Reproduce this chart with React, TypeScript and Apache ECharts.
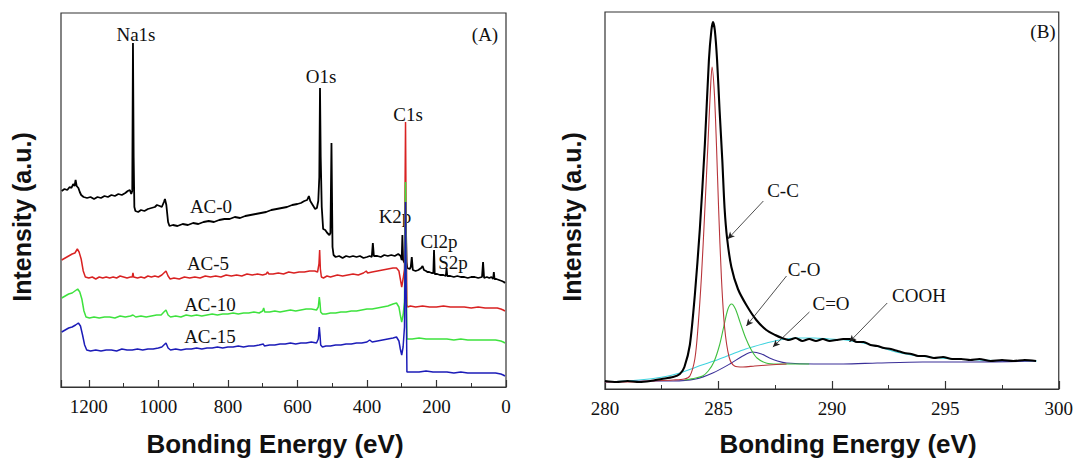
import React, { useEffect, useRef } from 'react';
import * as echarts from 'echarts';

// ---------- Panel A: survey spectra (Bonding energy eV, intensity a.u.) ----------
const ac0: number[][] = [
  [1278,196],[1270,198],[1262,197],[1255,200],[1250,199],[1245,203],[1241,201],[1238,207],[1235,201],[1230,199],[1226,195],[1222,192],[1215,190],[1205,189],[1195,190],[1185,188],[1175,190],[1165,189],[1155,191],[1145,190],[1135,192],[1125,191],[1115,193],[1105,192],[1095,194],[1088,196],[1082,197],[1078,193],[1075,196],[1073,344],[1071,230],[1069,180],[1066,176],[1058,175],[1050,177],[1040,176],[1030,178],[1020,179],[1010,180],[1004,182],[996,181],[990,180],[984,185],[981,188],[977,182],[972,165],[968,161],[958,162],[945,161],[930,163],[915,162],[900,164],[885,163],[870,165],[855,166],[840,165],[825,167],[810,168],[795,168],[780,170],[765,169],[750,171],[735,172],[720,173],[705,174],[690,175],[675,177],[660,178],[645,179],[630,180],[615,182],[600,183],[590,184],[580,186],[572,187],[567,191],[563,186],[556,182],[549,178],[544,179],[540,186],[537,210],[535,299],[533,230],[530,180],[526,158],[520,157],[514,154],[508,152],[505,154],[502,244],[499,140],[496,132],[490,130],[480,131],[470,129],[460,131],[450,130],[440,131],[430,130],[420,131],[410,129],[400,130],[392,131],[386,130],[383,144],[380,131],[370,131],[360,130],[350,132],[340,131],[330,132],[320,131],[310,133],[303,131],[300,127],[298,152],[297,128],[292,124],[289,185],[286,125],[284,119],[277,118],[274,120],[271,130],[268,117],[260,116],[252,117],[244,119],[240,121],[236,117],[230,116],[226,115],[221,115],[214,114],[209,114],[207,137],[205,113],[198,113],[190,112],[180,112],[173,111],[171,119],[169,111],[160,111],[150,110],[140,111],[130,110],[120,110],[110,109],[100,110],[90,110],[80,109],[69,110],[66,125],[63,109],[55,110],[48,109],[42,110],[37,108],[35,115],[33,108],[28,108],[20,107],[12,106],[6,105],[3,104]
];
const ac5: number[][] = [
  [1278,127],[1268,129],[1258,131],[1248,133],[1240,134],[1233,138],[1228,135],[1222,128],[1216,116],[1210,110],[1200,109],[1190,110],[1180,108],[1170,110],[1160,109],[1150,110],[1140,109],[1130,110],[1120,109],[1110,111],[1100,110],[1090,109],[1080,110],[1075,110],[1073,114],[1071,110],[1060,109],[1050,110],[1040,109],[1030,111],[1020,110],[1010,111],[1000,110],[990,112],[984,114],[978,116],[972,111],[966,108],[955,109],[940,108],[925,110],[910,109],[895,110],[880,109],[865,111],[850,110],[835,111],[820,110],[805,112],[790,111],[775,112],[760,111],[745,113],[730,112],[715,113],[700,112],[690,113],[686,115],[682,113],[670,113],[655,114],[640,113],[625,115],[610,114],[595,115],[580,115],[565,116],[550,116],[542,115],[538,123],[536,137],[534,118],[531,110],[525,109],[515,111],[505,110],[495,111],[485,112],[470,111],[455,112],[440,113],[425,112],[410,114],[402,116],[398,114],[385,115],[370,116],[355,117],[340,118],[325,119],[315,119],[308,116],[304,108],[300,100],[296,108],[292,118],[289,265],[287,150],[285,82],[283,80],[275,81],[260,80],[240,81],[220,80],[200,80],[180,81],[160,80],[140,80],[120,80],[100,79],[80,80],[60,79],[40,79],[25,79],[15,78],[8,77],[3,76]
];
const ac10: number[][] = [
  [1278,89],[1268,91],[1258,93],[1248,94],[1240,96],[1232,98],[1226,95],[1220,88],[1214,76],[1208,70],[1198,69],[1185,70],[1170,69],[1155,70],[1140,70],[1125,69],[1110,71],[1095,70],[1080,71],[1073,72],[1065,70],[1050,71],[1035,70],[1020,71],[1005,72],[992,72],[984,75],[978,77],[972,72],[965,70],[950,71],[935,70],[920,72],[905,71],[890,72],[875,71],[860,72],[845,73],[830,72],[815,73],[800,73],[785,74],[770,73],[755,74],[740,74],[725,75],[710,74],[700,76],[697,79],[694,75],[680,75],[665,76],[650,75],[635,76],[620,77],[605,76],[590,77],[575,78],[560,78],[545,77],[540,80],[537,90],[535,84],[533,75],[528,73],[518,73],[505,74],[490,74],[475,75],[460,75],[445,76],[430,76],[415,77],[400,78],[385,78],[370,79],[355,80],[340,81],[325,83],[315,84],[308,80],[304,72],[300,65],[296,72],[292,85],[289,205],[287,110],[285,48],[283,48],[270,48],[250,49],[230,48],[210,48],[190,48],[170,48],[150,47],[130,48],[110,47],[90,47],[70,47],[50,47],[30,47],[15,46],[8,45],[3,44]
];
const ac15: number[][] = [
  [1278,55],[1268,57],[1258,59],[1248,60],[1238,62],[1230,64],[1224,61],[1218,52],[1212,42],[1206,37],[1195,36],[1180,37],[1165,36],[1150,37],[1135,37],[1120,36],[1105,38],[1090,37],[1075,37],[1060,38],[1045,37],[1030,38],[1015,38],[1000,39],[990,40],[984,42],[978,44],[972,39],[965,37],[950,38],[935,37],[920,38],[905,38],[890,39],[875,38],[860,39],[845,39],[830,40],[815,39],[800,40],[785,40],[770,41],[755,40],[740,41],[725,41],[710,42],[698,43],[695,41],[680,42],[665,42],[650,43],[635,43],[620,44],[605,43],[590,44],[575,44],[560,45],[545,44],[540,48],[537,60],[535,52],[533,42],[528,40],[518,41],[505,41],[490,42],[475,42],[460,43],[445,43],[430,44],[415,44],[400,45],[392,47],[385,45],[370,46],[355,47],[340,48],[325,49],[315,50],[308,46],[304,38],[300,32],[296,40],[292,60],[289,185],[287,90],[285,15],[283,15],[270,15],[250,15],[230,16],[210,15],[190,15],[170,15],[150,14],[130,15],[110,14],[90,14],[70,14],[50,14],[30,14],[15,13],[8,12],[3,11]
];

// ---------- Panel B: C1s high resolution ----------
const c1sEnvelope: number[][] = [
  [280,8],[280.5,7],[281,8],[281.5,7],[282,8],[282.5,10],[283,12],[283.3,15],[283.5,22],[283.74,44],[283.96,94],[284.18,160],[284.4,244],[284.58,329],[284.69,359],[284.76,367],[284.84,359],[284.94,329],[285.05,279],[285.17,229],[285.27,181],[285.38,151],[285.57,122],[285.86,100],[286.23,84],[286.67,69],[287.11,59],[287.5,54],[287.8,51],[288.1,49],[288.4,51],[288.7,48],[289.0,50],[289.3,48],[289.6,50],[289.9,48],[290.2,49],[290.5,50],[290.8,50],[291.1,47],[291.4,47],[291.7,44],[292.0,43],[292.3,41],[292.6,40],[292.9,38],[293.2,36],[293.5,35],[293.8,33],[294.1,33],[294.5,31],[294.9,32],[295.3,30],[295.7,30],[296.1,29],[296.5,30],[297.0,28],[297.5,29],[298.0,28],[298.5,29],[299.0,28]
];
const peakCC: number[][] = [
  [280,7],[281,7],[282,8],[283,9],[283.5,10],[283.74,13],[283.96,30],[284.1,62],[284.25,112],[284.4,179],[284.54,246],[284.64,296],[284.72,322],[284.82,296],[284.91,246],[285.01,179],[285.13,112],[285.27,62],[285.47,32],[285.71,23],[286.08,22],[286.6,23],[287.2,24],[288,25]
];
const peakCO: number[][] = [
  [283.5,9],[284.0,11],[284.3,13],[284.55,18],[284.8,27],[285.05,44],[285.25,64],[285.42,80],[285.58,85],[285.75,80],[285.95,67],[286.2,51],[286.45,39],[286.7,31],[287.1,26],[287.6,25],[288.2,25],[289,25]
];
const peakCdO: number[][] = [
  [280,7],[282,8],[283,8],[284.0,10],[284.75,16],[285.5,25],[286.07,33],[286.5,37],[286.9,35],[287.25,31],[287.6,28],[288.0,26],[289.2,25],[290.5,25],[292,26],[294,27],[296,27],[299,28]
];
const peakCOOH: number[][] = [
  [280,7],[281.5,9],[282.56,12],[283.3,16],[284.03,22],[284.8,28],[285.5,34],[286.2,40],[286.96,45],[287.7,49],[288.43,51],[289.2,51],[289.89,50],[290.6,49],[291.36,46],[292.1,42],[292.82,37],[293.5,34],[294.29,32],[295.4,30],[296.48,29],[297.8,28],[299.03,28]
];

const xTicksA = [0, 200, 400, 600, 800, 1000, 1200];

export default function App() {
  const ref = useRef<HTMLDivElement>(null);
  useEffect(() => {
    if (!ref.current) return;
    const chart = echarts.init(ref.current, null, { renderer: 'svg' });
    const serif = 'Liberation Serif';
    const sans = 'Liberation Sans';
    const axisCol = '#333';
    const txt = (text: string, x: number, y: number, size = 19, extra: any = {}) => ({
      type: 'text',
      x, y,
      silent: true,
      ...extra,
      style: {
        text,
        fill: '#111',
        fontFamily: extra.font || serif,
        fontSize: size,
        fontWeight: extra.bold ? 'bold' : 'normal',
        textAlign: 'center',
        textVerticalAlign: 'middle',
        align: 'center',
        verticalAlign: 'middle',
      },
    });
    const lineA = (data: number[][], color: string, width: number) => ({
      type: 'line', xAxisIndex: 0, yAxisIndex: 0, data, showSymbol: false, symbol: 'none',
      lineStyle: { color, width }, itemStyle: { color }, silent: true,
    });
    const lineB = (data: number[][], color: string, width: number, smooth = 0.3) => ({
      type: 'line', xAxisIndex: 2, yAxisIndex: 1, data, showSymbol: false, symbol: 'none', smooth,
      lineStyle: { color, width }, itemStyle: { color }, silent: true,
    });
    const arrow = (a: number[], b: number[]) => [{ coord: a }, { coord: b }];

    const option: any = {
      animation: false,
      backgroundColor: '#ffffff',
      grid: [
        { left: 61, top: 13, width: 445, height: 374, show: true, borderColor: axisCol, borderWidth: 1.2, backgroundColor: 'transparent' },
        { left: 605, top: 12, width: 454, height: 377, show: true, borderColor: axisCol, borderWidth: 1.2, backgroundColor: 'transparent' },
      ],
      xAxis: [
        {
          gridIndex: 0, type: 'value', min: 0, max: 1280, inverse: true, interval: 200,
          axisLine: { show: true, lineStyle: { color: axisCol, width: 1.2 } },
          axisTick: { show: true, inside: true, length: 7, lineStyle: { color: axisCol, width: 1.2 } },
          axisLabel: {
            margin: 10, fontFamily: serif, fontSize: 19, color: '#111',
            formatter: (v: number) => (xTicksA.indexOf(v) >= 0 ? String(v) : ''),
          },
          splitLine: { show: false },
        },
        {
          gridIndex: 0, type: 'value', min: 0, max: 1280, inverse: true, interval: 100, position: 'bottom',
          axisLine: { show: false },
          axisTick: { show: true, inside: true, length: 4, lineStyle: { color: axisCol, width: 1 } },
          axisLabel: { show: false },
          splitLine: { show: false },
        },
        {
          gridIndex: 1, type: 'value', min: 280, max: 300, interval: 5,
          axisLine: { show: true, lineStyle: { color: axisCol, width: 1.2 } },
          axisTick: { show: true, inside: true, length: 8, lineStyle: { color: axisCol, width: 1.2 } },
          minorTick: { show: true, splitNumber: 2, length: 4, lineStyle: { color: axisCol, width: 1 } },
          axisLabel: { margin: 10, fontFamily: serif, fontSize: 19, color: '#111' },
          splitLine: { show: false },
          minorSplitLine: { show: false },
        },
      ],
      yAxis: [
        { gridIndex: 0, type: 'value', min: 0, max: 374, axisLine: { show: false }, axisTick: { show: false }, axisLabel: { show: false }, splitLine: { show: false } },
        { gridIndex: 1, type: 'value', min: 0, max: 377, axisLine: { show: false }, axisTick: { show: false }, axisLabel: { show: false }, splitLine: { show: false } },
      ],
      series: [
        lineA(ac0, '#000000', 1.8),
        lineA(ac5, '#d92222', 1.5),
        lineA(ac10, '#3ee23e', 1.5),
        lineA(ac15, '#1c1cb8', 1.5),
        lineB(peakCOOH, '#3fd3df', 1.1),
        lineB(peakCdO, '#3a2f98', 1.1),
        lineB(peakCO, '#3fbf3f', 1.1),
        lineB(peakCC, '#b8343a', 1.1),
        {
          ...lineB(c1sEnvelope, '#000000', 2.1, 0.25),
          markLine: {
            silent: true,
            symbol: ['none', 'arrow'],
            symbolSize: [5, 7],
            label: { show: false },
            lineStyle: { color: '#222', width: 0.8, type: 'solid' },
            data: [
              arrow([286.98, 188], [285.41, 150]),
              arrow([288.0, 113], [286.23, 63]),
              arrow([289.01, 77], [287.4, 42]),
              arrow([292.44, 86], [290.77, 47]),
            ],
          },
        },
      ],
      graphic: [
        txt('Intensity (a.u.)', 22, 217, 25, { font: sans, bold: true, rotation: Math.PI / 2 }),
        txt('Intensity (a.u.)', 572, 217, 25, { font: sans, bold: true, rotation: Math.PI / 2 }),
        txt('Bonding Energy (eV)', 275, 444, 26, { font: sans, bold: true }),
        txt('Bonding Energy (eV)', 848, 444, 26, { font: sans, bold: true }),
        txt('(A)', 485, 34, 19),
        txt('(B)', 1043, 31, 19),
        txt('Na1s', 136, 34),
        txt('O1s', 321, 76),
        txt('C1s', 408, 114),
        txt('K2p', 395, 216),
        txt('Cl2p', 439, 241),
        txt('S2p', 453, 262),
        txt('AC-0', 211, 206),
        txt('AC-5', 208, 263),
        txt('AC-10', 210, 304),
        txt('AC-15', 210, 336),
        txt('C-C', 783, 190),
        txt('C-O', 804, 269),
        txt('C=O', 831, 303),
        txt('COOH', 919, 295),
      ],
    };
    chart.setOption(option);
    return () => chart.dispose();
  }, []);
  return (
    <div
      ref={ref}
      style={{ position: 'fixed', left: 0, top: 0, width: 1076, height: 460, background: '#fff' }}
    />
  );
}
